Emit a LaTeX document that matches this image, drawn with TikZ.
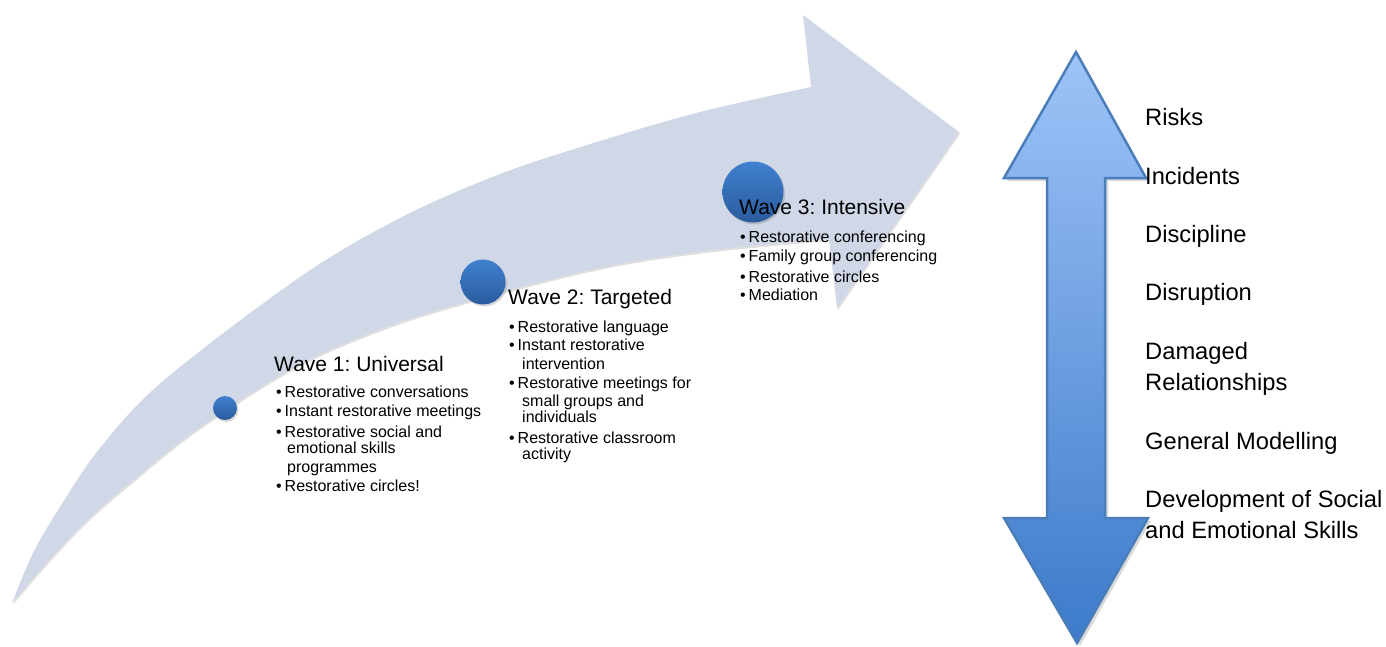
\documentclass[tikz,border=0pt]{standalone}
\usepackage{fontspec}
\setmainfont{Liberation Sans}
\usetikzlibrary{shadows}
\definecolor{bandfill}{RGB}{208,216,232}
\definecolor{balltop}{RGB}{64,128,206}
\definecolor{ballbot}{RGB}{42,92,158}
\definecolor{dartop}{RGB}{158,196,248}
\definecolor{darbot}{RGB}{60,122,202}
\definecolor{darline}{RGB}{74,126,187}
\newcommand{\bul}{\makebox[8.5pt][l]{•}}
\frenchspacing
\tikzset{
  band/.style={fill=bandfill, drop shadow={opacity=0.25, shadow xshift=1pt, shadow yshift=-2pt}},
  ball/.style={circle, inner sep=0pt, top color=balltop, bottom color=ballbot, draw=none,
    drop shadow={opacity=0.3, shadow xshift=1.5pt, shadow yshift=-2pt}},
  dar/.style={top color=dartop, bottom color=darbot, draw=darline, line width=2.5pt, line join=miter,
    drop shadow={opacity=0.3, shadow xshift=3pt, shadow yshift=-3pt}},
  head/.style={anchor=base west, inner sep=0pt, font=\fontsize{21}{24}\selectfont},
  item/.style={anchor=base west, inner sep=0pt, font=\fontsize{16}{19}\selectfont},
  lab/.style={anchor=base west, inner sep=0pt, font=\fontsize{23.7}{27}\selectfont},
}
\begin{document}
\begin{tikzpicture}[x=1pt,y=-1pt]
\useasboundingbox (0,0) rectangle (1386,646);
% curved arrow
\path[band] plot[smooth, tension=0.55] coordinates {(12,603) (33,553) (60,507) (100,448) (163,381) (300,277) (400,218) (500,174) (600,141) (700,112) (811,87)}
  -- (803,15) -- (959,132) -- (837,308) -- (829,239)
  -- plot[smooth, tension=0.55] coordinates {(829,239) (713,250) (613,265) (513,289) (400,322) (300,364) (200,427) (133,480) (83,524) (40,570) (12,603)} -- cycle;
% balls
\node[ball, minimum size=24pt] (b1) at (225,408) {};
\node[ball, minimum size=45pt] (b2) at (483,282) {};
\node[ball, minimum size=61pt] (b3) at (753,192) {};
% double arrow
\path[dar] (1076,52) -- (1146,178) -- (1105,178) -- (1105,518) -- (1148,518) -- (1077,643)
  -- (1004,518) -- (1047,518) -- (1047,178) -- (1004,178) -- cycle;
% wave 1
\node[head] (h1) at (274,371) {Wave 1: Universal};
\node[item] (w1a) at (276,397) {\bul Restorative conversations};
\node[item] (w1b) at (276,416) {\bul Instant restorative meetings};
\node[item] (w1c) at (276,437) {\bul Restorative social and};
\node[item] (w1d) at (287,453) {emotional skills};
\node[item] (w1e) at (287,472) {programmes};
\node[item] (w1f) at (276,491) {\bul Restorative circles!};
% wave 2
\node[head] (h2) at (508,304) {Wave 2: Targeted};
\node[item] (w2a) at (509,332) {\bul Restorative language};
\node[item] (w2b) at (509,350) {\bul Instant restorative};
\node[item] (w2c) at (522,369) {intervention};
\node[item] (w2d) at (509,388) {\bul Restorative meetings for};
\node[item] (w2e) at (522,406) {small groups and};
\node[item] (w2f) at (522,422) {individuals};
\node[item] (w2g) at (509,443) {\bul Restorative classroom};
\node[item] (w2h) at (522,459) {activity};
% wave 3
\node[head] (h3) at (739,214) {Wave 3: Intensive};
\node[item] (w3a) at (740,242) {\bul Restorative conferencing};
\node[item] (w3b) at (740,261) {\bul Family group conferencing};
\node[item] (w3c) at (740,282) {\bul Restorative circles};
\node[item] (w3d) at (740,300) {\bul Mediation};
% right labels
\node[lab] (r1) at (1145,125.5) {Risks};
\node[lab] (r2) at (1145,184) {Incidents};
\node[lab] (r3) at (1145,242) {Discipline};
\node[lab] (r4) at (1145,300) {Disruption};
\node[lab] (r5) at (1145,359) {Damaged};
\node[lab] (r6) at (1145,390) {Relationships};
\node[lab] (r7) at (1145,449) {General Modelling};
\node[lab] (r8) at (1145,507) {Development of Social};
\node[lab] (r9) at (1145,538) {and Emotional Skills};
\end{tikzpicture}
\end{document}
